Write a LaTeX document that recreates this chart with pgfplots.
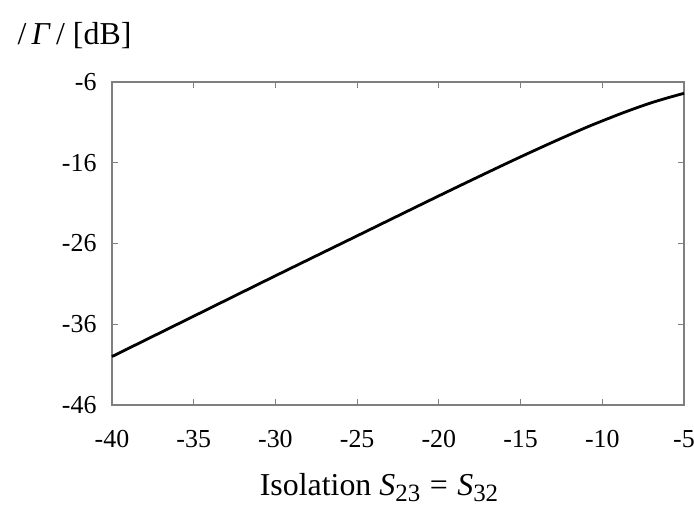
\documentclass[border=0pt]{standalone}
\usepackage{pgfplots}
\pgfplotsset{compat=1.18}
\usepackage{fontspec}
\setmainfont{Liberation Serif}
\definecolor{framegray}{HTML}{7F7F7F}
\newcommand{\Ssub}[1]{\textit{S}\raisebox{-0.35ex}{\fontsize{25}{27}\selectfont #1}}

\begin{document}
\begin{tikzpicture}
\begin{axis}[
    scale only axis,
    width=572bp, height=323bp,
    xmin=-40, xmax=-5,
    ymin=-46, ymax=-6,
    xtick={-40,-35,...,-5},
    ytick={-46,-36,-26,-16,-6},
    /pgf/number format/assume math mode=true,
    tick align=inside,
    major tick length=6bp,
    axis line style={framegray, line width=1.2bp},
    tick style={framegray, line width=1bp},
    ticklabel style={font=\fontsize{26}{28}\selectfont},
    xticklabel style={yshift=-22bp},
    yticklabel style={xshift=-12bp},
    xlabel={Isolation \Ssub{23}\hspace{0.3em}=\hspace{0.3em}\Ssub{32}},
    xlabel style={font=\fontsize{32}{34}\selectfont, yshift=-19bp, xshift=-19bp},
    clip=false,
]
% reflection vs isolation
\addplot[black, line width=2.8bp, smooth] coordinates {
    (-40,-40.0) (-35,-35.0) (-30,-30.0) (-25,-25.05) (-20,-20.1)
    (-17,-17.18) (-15,-15.27) (-13,-13.42) (-11,-11.64) (-10,-10.82)
    (-9,-10.02) (-8,-9.27) (-7,-8.57) (-6,-7.96) (-5,-7.4)
};
\end{axis}
\node[anchor=west, font=\fontsize{32}{34}\selectfont] at ([xshift=-98bp, yshift=46bp]current axis.north west) {/\,\textit{Γ}\,/ [dB]};
\pgfresetboundingbox
\path[use as bounding box] ([xshift=-112bp, yshift=-104bp]current axis.south west) rectangle ++(694bp,509bp);
\end{tikzpicture}
\end{document}
